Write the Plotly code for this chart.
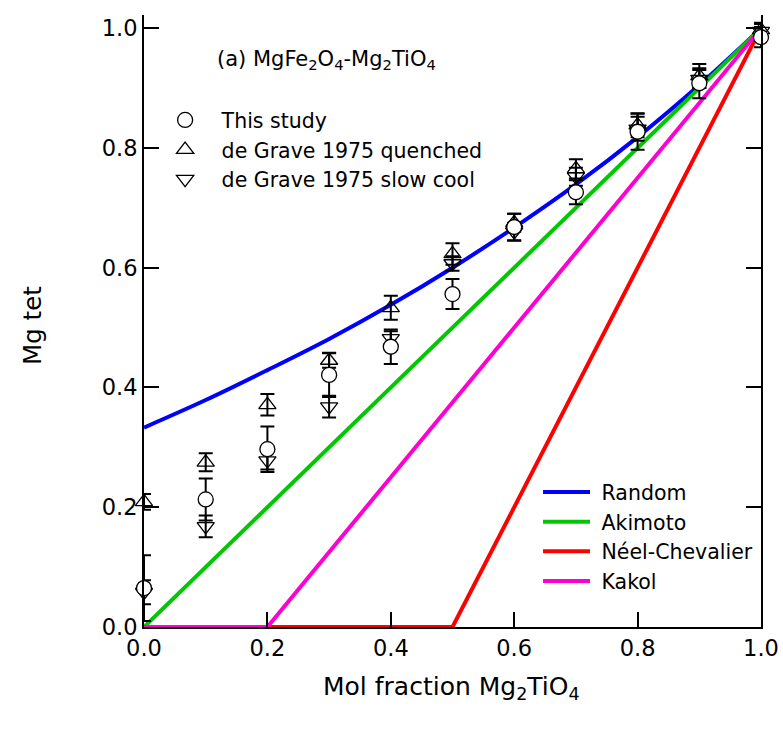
import plotly.graph_objects as go

# ---- data ----
x_comp = [0.0, 0.1, 0.2, 0.3, 0.4, 0.5, 0.6, 0.7, 0.8, 0.9, 1.0]

study_y = [0.065, 0.213, 0.297, 0.421, 0.468, 0.556, 0.668, 0.726, 0.827, 0.908, 0.985]
study_err = [0.055, 0.035, 0.038, 0.037, 0.029, 0.025, 0.022, 0.020, 0.030, 0.025, 0.017]

quench_y = [0.209, 0.275, 0.371, 0.445, 0.533, 0.623, 0.675, 0.765, 0.838, 0.920, 0.997]
quench_err = [0.013, 0.015, 0.018, 0.012, 0.020, 0.018, 0.015, 0.016, 0.020, 0.020, 0.012]

slow_y = [0.058, 0.168, 0.278, 0.368, 0.482, 0.607, 0.660, 0.752, 0.832, 0.915, 0.995]
slow_err = [0.020, 0.018, 0.015, 0.018, 0.012, 0.012, 0.015, 0.015, 0.020, 0.015, 0.012]

random_x = [0.0, 0.1, 0.2, 0.3, 0.4, 0.5, 0.6, 0.7, 0.8, 0.9, 1.0]
random_y = [0.333, 0.379, 0.429, 0.481, 0.538, 0.600, 0.667, 0.739, 0.818, 0.905, 1.000]
akimoto_x = [0.0, 1.0]
akimoto_y = [0.0, 1.0]
neel_x = [0.0, 0.5, 1.0]
neel_y = [0.0, 0.0, 1.0]
kakol_x = [0.0, 0.2, 1.0]
kakol_y = [0.0, 0.0, 1.0]

tick_vals = [0.0, 0.2, 0.4, 0.6, 0.8, 1.0]
tick_text = ["0.0", "0.2", "0.4", "0.6", "0.8", "1.0"]

FONT = "DejaVu Sans"

fig = go.Figure()

# model lines
for name, xs, ys, col, shape in [
    ("Random", random_x, random_y, "#0000ff", "spline"),
    ("Akimoto", akimoto_x, akimoto_y, "#00c800", "linear"),
    ("Néel-Chevalier", neel_x, neel_y, "#ff0000", "linear"),
    ("Kakol", kakol_x, kakol_y, "#ff00d2", "linear"),
]:
    fig.add_trace(go.Scatter(
        x=xs, y=ys, mode="lines", name=" " + name,
        line=dict(color=col, width=4, shape=shape),
        legend="legend2", cliponaxis=False,
    ))

# data points
def pts(name, ys, errs, symbol, fill, rank):
    return go.Scatter(
        x=x_comp, y=ys, mode="markers", name=" " + name,
        marker=dict(symbol=symbol, size=15, color=fill,
                    line=dict(color="black", width=1.3)),
        error_y=dict(type="data", array=errs, visible=True,
                     color="black", thickness=2, width=7),
        legend="legend", legendrank=rank, cliponaxis=False,
    )

fig.add_trace(pts("de Grave 1975 quenched", quench_y, quench_err, "triangle-up-open", "black", 2))
fig.add_trace(pts("de Grave 1975 slow cool", slow_y, slow_err, "triangle-down-open", "black", 3))
fig.add_trace(pts("This study", study_y, study_err, "circle", "white", 1))

fig.update_layout(
    width=783, height=734,
    margin=dict(l=144, r=22, t=15, b=107),
    plot_bgcolor="white", paper_bgcolor="white",
    font=dict(family=FONT, size=20, color="black"),
    showlegend=True,
    legend=dict(
        x=0.018, y=0.861, xanchor="left", yanchor="top",
        bgcolor="rgba(0,0,0,0)", font=dict(size=20.5, family=FONT),
        traceorder="normal", itemwidth=50,
    ),
    legend2=dict(
        x=0.6386, y=0.253, xanchor="left", yanchor="top",
        bgcolor="rgba(0,0,0,0)", font=dict(size=20.5, family=FONT),
        traceorder="normal", itemwidth=47,
    ),
    xaxis=dict(
        range=[0, 1], tickvals=tick_vals, ticktext=tick_text,
        ticks="inside", ticklen=15, tickwidth=2, tickcolor="black",
        showline=True, linecolor="black", linewidth=2,
        showgrid=False, zeroline=False, mirror=False, automargin=False,
        tickfont=dict(size=22.5, family=FONT),
    ),
    yaxis=dict(
        range=[0, 1.022], tickvals=tick_vals, ticktext=tick_text,
        ticks="inside", ticklen=15, tickwidth=2, tickcolor="black",
        showline=True, linecolor="black", linewidth=2,
        showgrid=False, zeroline=False, mirror="ticks", automargin=False,
        tickfont=dict(size=22.5, family=FONT),
    ),
    annotations=[
        dict(text="(a) MgFe<sub>2</sub>O<sub>4</sub>-Mg<sub>2</sub>TiO<sub>4</sub>",
             xref="paper", yref="paper", x=0.115, y=0.926,
             xanchor="left", yanchor="middle", showarrow=False,
             font=dict(size=21, family=FONT)),
        dict(text="Mg tet", xref="paper", yref="paper", x=-0.18, y=0.4935,
             xanchor="center", yanchor="middle", textangle=-90, showarrow=False,
             font=dict(size=24.5, family=FONT)),
        dict(text="Mol fraction Mg<sub>2</sub>TiO<sub>4</sub>", xref="paper", yref="paper",
             x=0.499, y=-0.1, xanchor="center", yanchor="middle", showarrow=False,
             font=dict(size=25, family=FONT)),
    ],
)

fig.write_html("out.html")
